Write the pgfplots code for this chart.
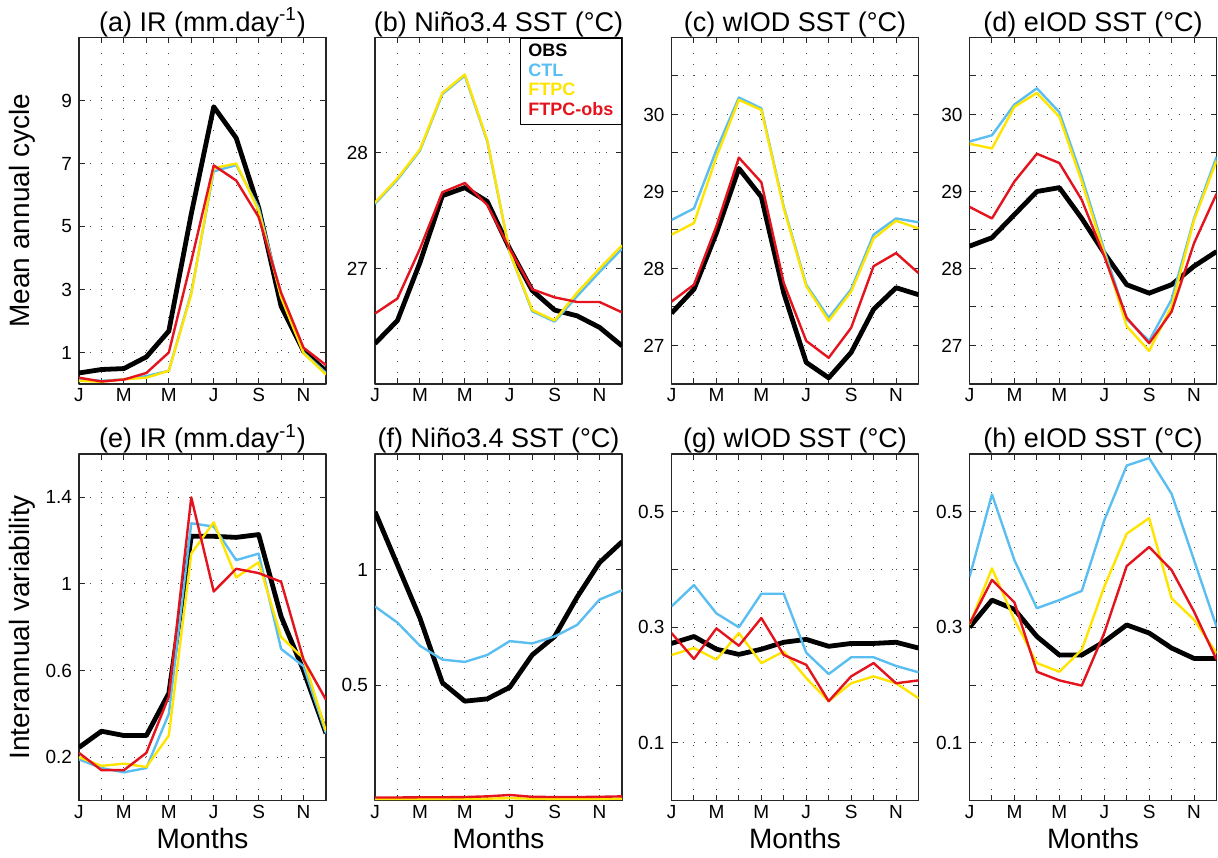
\documentclass[border=0pt]{standalone}
\usepackage{fontspec}
\setmainfont{Liberation Sans}
\usepackage{pgfplots}
\usepackage{pgfplotstable}
\pgfplotsset{compat=1.18}

\definecolor{ctlc}{RGB}{90,190,240}
\definecolor{ftpcc}{RGB}{255,228,0}
\definecolor{fobsc}{RGB}{228,20,30}

% month, OBS, CTL, FTPC, FTPC-obs
\pgfplotstableread{
m obs ctl ftpc fobs
1 0.35 0.15 0.10 0.20
2 0.46 0.10 0.07 0.08
3 0.49 0.15 0.15 0.14
4 0.86 0.25 0.20 0.35
5 1.68 0.42 0.42 1.00
6 5.40 2.90 2.85 3.90
7 8.80 6.75 6.85 6.94
8 7.81 6.95 7.00 6.46
9 5.60 5.60 5.50 5.30
10 2.47 2.80 2.75 2.90
11 1.04 1.00 0.98 1.15
12 0.41 0.35 0.30 0.60
}\tabA
\pgfplotstableread{
m obs ctl ftpc fobs
1 26.35 27.56 27.57 26.61
2 26.55 27.77 27.78 26.74
3 27.05 28.02 28.03 27.17
4 27.63 28.51 28.52 27.66
5 27.70 28.67 28.68 27.74
6 27.58 28.10 28.11 27.55
7 27.17 27.14 27.14 27.17
8 26.81 26.63 26.64 26.82
9 26.64 26.54 26.55 26.75
10 26.59 26.76 26.79 26.71
11 26.49 26.97 27.00 26.71
12 26.33 27.17 27.20 26.62
}\tabB
\pgfplotstableread{
m obs ctl ftpc fobs
1 27.42 28.63 28.44 27.57
2 27.73 28.78 28.59 27.79
3 28.46 29.54 29.45 28.55
4 29.30 30.22 30.19 29.44
5 28.93 30.08 30.06 29.12
6 27.68 28.80 28.78 27.81
7 26.78 27.79 27.77 27.06
8 26.58 27.36 27.32 26.84
9 26.91 27.73 27.70 27.23
10 27.47 28.44 28.39 28.03
11 27.75 28.65 28.62 28.20
12 27.66 28.60 28.52 27.94
}\tabC
\pgfplotstableread{
m obs ctl ftpc fobs
1 28.29 29.65 29.62 28.80
2 28.40 29.73 29.56 28.65
3 28.70 30.13 30.10 29.13
4 29.00 30.34 30.28 29.49
5 29.05 30.03 29.97 29.37
6 28.65 29.19 29.13 28.89
7 28.20 28.24 28.20 28.16
8 27.79 27.34 27.25 27.36
9 27.68 27.06 26.93 27.03
10 27.79 27.60 27.51 27.44
11 28.03 28.65 28.63 28.33
12 28.22 29.45 29.40 28.97
}\tabD
\pgfplotstableread{
m obs ctl ftpc fobs
1 0.245 0.19 0.20 0.22
2 0.32 0.15 0.16 0.14
3 0.30 0.13 0.17 0.14
4 0.30 0.15 0.155 0.22
5 0.495 0.40 0.30 0.48
6 1.22 1.28 1.14 1.40
7 1.22 1.265 1.285 0.965
8 1.215 1.11 1.03 1.07
9 1.228 1.14 1.10 1.05
10 0.85 0.70 0.755 1.01
11 0.60 0.62 0.656 0.65
12 0.31 0.31 0.32 0.465
}\tabE
\pgfplotstableread{
m obs ctl ftpc fobs
1 1.25 0.84 0.007 0.013
2 1.02 0.77 0.007 0.013
3 0.79 0.67 0.007 0.014
4 0.51 0.61 0.007 0.014
5 0.43 0.60 0.008 0.015
6 0.44 0.63 0.008 0.018
7 0.49 0.69 0.010 0.024
8 0.63 0.68 0.008 0.016
9 0.71 0.71 0.007 0.015
10 0.88 0.76 0.007 0.015
11 1.03 0.87 0.007 0.016
12 1.12 0.91 0.008 0.018
}\tabF
\pgfplotstableread{
m obs ctl ftpc fobs
1 0.272 0.336 0.252 0.290
2 0.284 0.373 0.264 0.245
3 0.262 0.324 0.244 0.298
4 0.253 0.300 0.290 0.268
5 0.262 0.358 0.238 0.316
6 0.274 0.358 0.258 0.252
7 0.279 0.256 0.212 0.235
8 0.267 0.219 0.172 0.172
9 0.272 0.248 0.203 0.215
10 0.272 0.248 0.215 0.238
11 0.274 0.233 0.203 0.203
12 0.264 0.222 0.177 0.208
}\tabG
\pgfplotstableread{
m obs ctl ftpc fobs
1 0.300 0.387 0.304 0.306
2 0.347 0.530 0.402 0.382
3 0.331 0.416 0.313 0.343
4 0.284 0.333 0.238 0.223
5 0.252 0.347 0.223 0.208
6 0.252 0.363 0.261 0.199
7 0.275 0.485 0.370 0.290
8 0.304 0.580 0.462 0.406
9 0.290 0.593 0.489 0.439
10 0.264 0.531 0.350 0.399
11 0.246 0.416 0.313 0.327
12 0.246 0.301 0.255 0.244
}\tabH

\pgfplotsset{
  panel/.style={
    scale only axis, width=123.5pt, height=173.25pt,
    anchor=south west,
    xmin=1, xmax=12, xtick={1,...,12},
    xticklabels={J,,M,,M,,J,,S,,N,},
    grid=major,
    grid style={black!70, line width=0.5pt, dash pattern=on 0.5pt off 5pt},
    tick align=inside, major tick length=3pt,
    axis line style={black!85, line width=0.6pt},
    tick style={black!85, line width=0.5pt},
    ticklabel style={font=\fontsize{9.5}{10}\selectfont},
    xticklabel style={anchor=base, yshift=-9pt},
    title style={font=\fontsize{13.5}{15}\selectfont, at={(0.5,1)}, anchor=base, yshift=-2.8pt},
    xlabel style={font=\fontsize{14}{16}\selectfont, at={(axis description cs:0.5,0)}, anchor=base, yshift=-23.75pt},
    ylabel style={font=\fontsize{14}{16}\selectfont, at={(axis description cs:-0.228,0.5)}, anchor=center},
    no markers, line join=round,
  },
  obs/.style={black, line width=2.4pt},
  ctl/.style={ctlc, line width=1.2pt},
  ftpc/.style={ftpcc, line width=1.2pt},
  fobs/.style={fobsc, line width=1.2pt},
}

\begin{document}
\begin{tikzpicture}
\useasboundingbox (0,0) rectangle (609pt,428.5pt);

% ---- top row: mean annual cycle
\begin{axis}[panel, at={(39.5pt,236.5pt)}, ymin=0, ymax=11,
  ytick={1,3,5,7,9}, yticklabels={1,3,5,7,9},
  title={(a) IR (mm.day\textsuperscript{-1})}, ylabel={Mean annual cycle}]
\addplot[obs] table[x=m,y=obs]{\tabA};
\addplot[ctl] table[x=m,y=ctl]{\tabA};
\addplot[ftpc] table[x=m,y=ftpc]{\tabA};
\addplot[fobs] table[x=m,y=fobs]{\tabA};
\end{axis}

\begin{axis}[panel, at={(187.5pt,236.5pt)}, ymin=26, ymax=29,
  ytick={27,28}, yticklabels={27,28},
  title={(b) Niño3.4 SST (°C)},
  legend image code/.code={}, legend cell align=left,
  legend style={at={(1,1)}, anchor=north east, draw=black, line width=0.6pt,
    font=\fontsize{9}{10}\selectfont\bfseries, inner xsep=2pt, inner ysep=1pt, row sep=-2pt}]
\addplot[obs] table[x=m,y=obs]{\tabB};
\addplot[ctl] table[x=m,y=ctl]{\tabB};
\addplot[ftpc] table[x=m,y=ftpc]{\tabB};
\addplot[fobs] table[x=m,y=fobs]{\tabB};
\legend{OBS,\textcolor{ctlc}{CTL},\textcolor{ftpcc}{FTPC},\textcolor{fobsc}{FTPC-obs}}
\end{axis}

\begin{axis}[panel, at={(335.75pt,236.5pt)}, ymin=26.5, ymax=31,
  ytick={27,27.5,...,30.5}, yticklabels={27,,28,,29,,30,},
  title={(c) wIOD SST (°C)}]
\addplot[obs] table[x=m,y=obs]{\tabC};
\addplot[ctl] table[x=m,y=ctl]{\tabC};
\addplot[ftpc] table[x=m,y=ftpc]{\tabC};
\addplot[fobs] table[x=m,y=fobs]{\tabC};
\end{axis}

\begin{axis}[panel, at={(484.75pt,236.5pt)}, ymin=26.5, ymax=31,
  ytick={27,27.5,...,30.5}, yticklabels={27,,28,,29,,30,},
  title={(d) eIOD SST (°C)}]
\addplot[obs] table[x=m,y=obs]{\tabD};
\addplot[ctl] table[x=m,y=ctl]{\tabD};
\addplot[ftpc] table[x=m,y=ftpc]{\tabD};
\addplot[fobs] table[x=m,y=fobs]{\tabD};
\end{axis}

% ---- bottom row: interannual variability
\begin{axis}[panel, at={(39.5pt,28.25pt)}, ymin=0, ymax=1.6,
  ytick={0.2,0.6,1,1.4}, yticklabels={0.2,0.6,1,1.4},
  title={(e) IR (mm.day\textsuperscript{-1})}, ylabel={Interannual variability}, xlabel={Months}]
\addplot[obs] table[x=m,y=obs]{\tabE};
\addplot[ctl] table[x=m,y=ctl]{\tabE};
\addplot[ftpc] table[x=m,y=ftpc]{\tabE};
\addplot[fobs] table[x=m,y=fobs]{\tabE};
\end{axis}

\begin{axis}[panel, at={(187.5pt,28.25pt)}, ymin=0, ymax=1.5,
  ytick={0.5,1}, yticklabels={0.5,1},
  title={(f) Niño3.4 SST (°C)}, xlabel={Months}]
\addplot[obs] table[x=m,y=obs]{\tabF};
\addplot[ctl] table[x=m,y=ctl]{\tabF};
\addplot[ftpc] table[x=m,y=ftpc]{\tabF};
\addplot[fobs] table[x=m,y=fobs]{\tabF};
\end{axis}

\begin{axis}[panel, at={(335.75pt,28.25pt)}, ymin=0, ymax=0.6,
  ytick={0.1,0.2,0.3,0.4,0.5}, yticklabels={0.1,,0.3,,0.5},
  title={(g) wIOD SST (°C)}, xlabel={Months}]
\addplot[obs] table[x=m,y=obs]{\tabG};
\addplot[ctl] table[x=m,y=ctl]{\tabG};
\addplot[ftpc] table[x=m,y=ftpc]{\tabG};
\addplot[fobs] table[x=m,y=fobs]{\tabG};
\end{axis}

\begin{axis}[panel, at={(484.75pt,28.25pt)}, ymin=0, ymax=0.6,
  ytick={0.1,0.2,0.3,0.4,0.5}, yticklabels={0.1,,0.3,,0.5},
  title={(h) eIOD SST (°C)}, xlabel={Months}]
\addplot[obs] table[x=m,y=obs]{\tabH};
\addplot[ctl] table[x=m,y=ctl]{\tabH};
\addplot[ftpc] table[x=m,y=ftpc]{\tabH};
\addplot[fobs] table[x=m,y=fobs]{\tabH};
\end{axis}
\end{tikzpicture}
\end{document}
